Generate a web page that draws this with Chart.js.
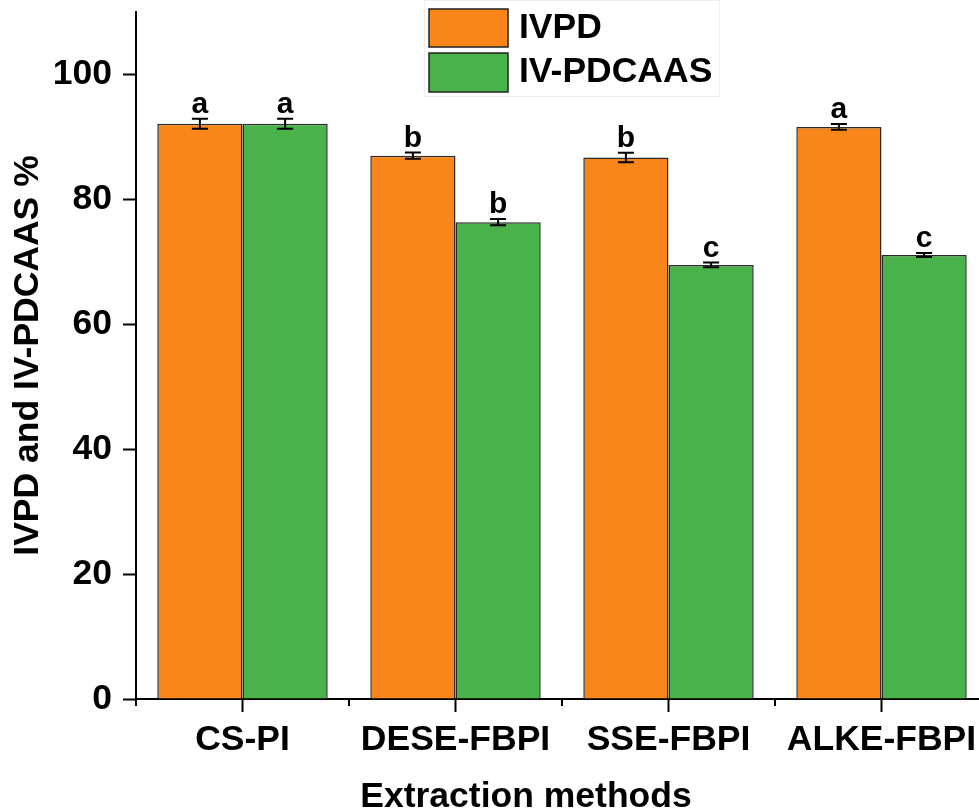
<!DOCTYPE html>
<html><head><meta charset="utf-8">
<script src="https://cdn.jsdelivr.net/npm/chart.js@4.4.0/dist/chart.umd.min.js"></script>
<style>html,body{margin:0;padding:0;overflow:hidden;background:#fff;width:979px;height:810px}canvas{display:block}</style>
</head><body>
<canvas id="c" width="1000" height="810"></canvas>
<script>
const categories = ['CS-PI', 'DESE-FBPI', 'SSE-FBPI', 'ALKE-FBPI'];
const ivpd = [92.1, 87.0, 86.7, 91.6];
const ivpdErr = [0.8, 0.5, 0.75, 0.45];
const ivpdLetters = ['a', 'b', 'b', 'a'];
const pdcaas = [92.1, 76.35, 69.5, 71.1];
const pdcaasErr = [0.8, 0.5, 0.38, 0.32];
const pdcaasLetters = ['a', 'b', 'c', 'c'];
const yTicks = [0, 20, 40, 60, 80, 100];
const seriesNames = ['IVPD', 'IV-PDCAAS'];
const colors = ['#F9861A', '#4AB24A'];

const FONT = 'Liberation Sans, Arial, sans-serif';
const FS = 35.5;
const errs = [ivpdErr, pdcaasErr];
const letters = [ivpdLetters, pdcaasLetters];

const extras = {
  id: 'extras',
  afterDraw(chart) {
    const ctx = chart.ctx;
    const x = chart.scales.x, y = chart.scales.y;
    const ca = chart.chartArea;
    ctx.save();
    ctx.strokeStyle = '#000';
    ctx.lineWidth = 2;
    for (let i = 0; i <= categories.length; i++) {
      const px = x.getPixelForValue(i - 0.5);
      ctx.beginPath();
      ctx.moveTo(px, ca.bottom);
      ctx.lineTo(px, ca.bottom + 7);
      ctx.stroke();
    }
    chart.data.datasets.forEach((ds, di) => {
      const meta = chart.getDatasetMeta(di);
      meta.data.forEach((bar, i) => {
        const v = ds.data[i], e = errs[di][i];
        const yt = y.getPixelForValue(v + e), yb = y.getPixelForValue(v - e);
        const bx = bar.x;
        ctx.strokeStyle = '#000';
        ctx.lineWidth = 2;
        ctx.beginPath();
        ctx.moveTo(bx, yt); ctx.lineTo(bx, yb);
        ctx.moveTo(bx - 8, yt); ctx.lineTo(bx + 8, yt);
        ctx.moveTo(bx - 8, yb); ctx.lineTo(bx + 8, yb);
        ctx.stroke();
        ctx.fillStyle = '#000';
        ctx.font = 'bold 30px ' + FONT;
        ctx.textAlign = 'center';
        ctx.textBaseline = 'alphabetic';
        ctx.fillText(letters[di][i], bx, yt - 6);
      });
    });
    ctx.fillStyle = '#000';
    ctx.font = 'bold ' + FS + 'px ' + FONT;
    ctx.textAlign = 'center';
    ctx.textBaseline = 'alphabetic';
    ctx.fillText('Extraction methods', ca.left + 390, 807);
    const lx = ca.left + 288;
    ctx.fillStyle = '#fff';
    ctx.fillRect(lx, 0, 296, 97);
    ctx.strokeStyle = '#eeeeee';
    ctx.lineWidth = 1;
    ctx.strokeRect(lx + 0.5, 0.5, 295, 96);
    const boxes = [[9, 38], [53, 39]];
    seriesNames.forEach((n, i) => {
      const [by, bh] = boxes[i];
      ctx.fillStyle = colors[i];
      ctx.fillRect(lx + 5, by, 79, bh);
      ctx.strokeStyle = '#222';
      ctx.lineWidth = 1.5;
      ctx.strokeRect(lx + 5, by, 79, bh);
      ctx.fillStyle = '#000';
      ctx.font = 'bold ' + FS + 'px ' + FONT;
      ctx.textAlign = 'left';
      ctx.textBaseline = 'middle';
      ctx.fillText(n, lx + 95, by + bh / 2);
    });
    ctx.restore();
  }
};

new Chart(document.getElementById('c'), {
  type: 'bar',
  data: {
    labels: categories,
    datasets: [
      { label: seriesNames[0], data: ivpd, backgroundColor: colors[0], borderColor: '#2a2a2a', borderWidth: 1.5, categoryPercentage: 0.8, barPercentage: 1.0 },
      { label: seriesNames[1], data: pdcaas, backgroundColor: colors[1], borderColor: '#2a2a2a', borderWidth: 1.5, categoryPercentage: 0.8, barPercentage: 1.0 }
    ]
  },
  options: {
    responsive: false,
    animation: false,
    devicePixelRatio: 1,
    layout: { padding: { left: 0, right: 12, top: 12, bottom: 0 } },
    plugins: { legend: { display: false }, tooltip: { enabled: false } },
    scales: {
      x: {
        offset: true,
        border: { display: true, color: '#000', width: 2 },
        grid: { offset: false, drawOnChartArea: false, drawTicks: true, tickLength: 13, tickWidth: 2, tickColor: '#000' },
        ticks: { color: '#000', font: { family: FONT, size: FS, weight: 'bold' }, padding: 7, maxRotation: 0, autoSkip: false },
        afterFit: s => { s.height = 111; s.paddingLeft = 0; s.paddingRight = 0; }
      },
      y: {
        min: 0, max: 110,
        border: { display: true, color: '#000', width: 2 },
        grid: { drawOnChartArea: false, drawTicks: true, tickLength: 13, tickWidth: 2, tickColor: '#000' },
        ticks: { color: '#000', font: { family: FONT, size: FS, weight: 'bold' }, padding: 11 },
        afterBuildTicks: s => { s.ticks = yTicks.map(v => ({ value: v })); },
        title: { display: true, text: 'IVPD and IV-PDCAAS %', color: '#000', font: { family: FONT, size: FS, weight: 'bold', lineHeight: 1 }, padding: { top: 10, bottom: 0 } },
        afterFit: s => { s.width = 136; s.paddingTop = 0; s.paddingBottom = 0; }
      }
    }
  },
  plugins: [extras]
});
</script>
</body></html>
